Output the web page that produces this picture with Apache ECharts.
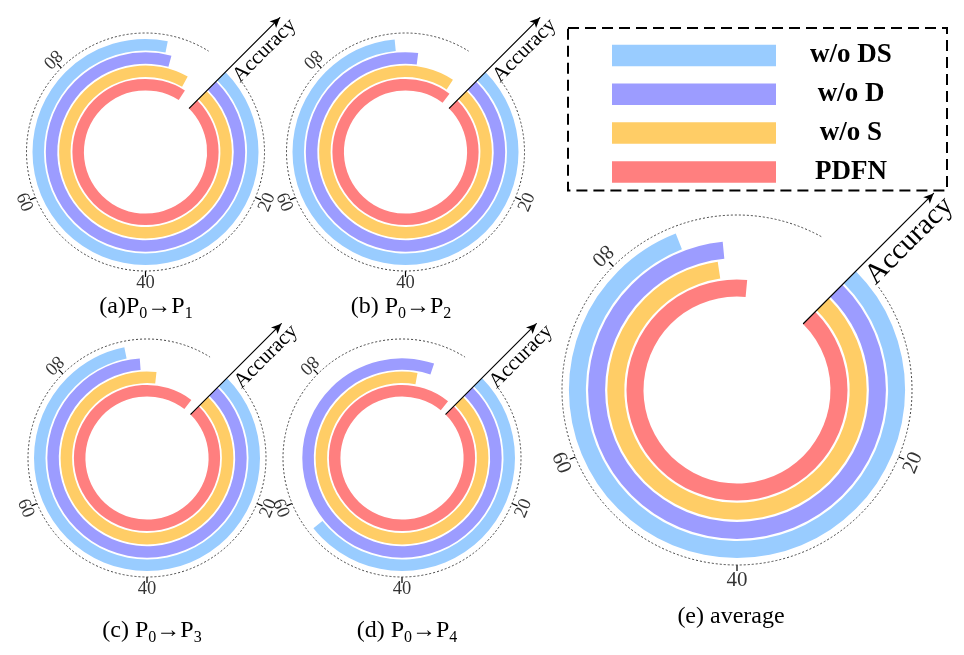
<!DOCTYPE html>
<html lang="en">
<head>
<meta charset="UTF-8">
<title>PDFN ablation - radial bars</title>
<script src="https://cdn.jsdelivr.net/npm/echarts@6/dist/echarts.min.js"></script>
</head>
<body style="margin:0">
<div id="container" style="width:964px;height:655px"></div>
<script>
// rings from the inside out
var methods = ['PDFN', 'w/o S', 'w/o D', 'w/o DS'];
var legendOrder = ['w/o DS', 'w/o D', 'w/o S', 'PDFN'];
var colors = { 'PDFN': '#ff7f7f', 'w/o S': '#ffcd66', 'w/o D': '#9c9cff', 'w/o DS': '#99ccff' };

// values, same order as methods
var accP1 = [103.0, 102.0, 97.8, 96.7];
var accP2 = [104.3, 103.2, 95.5, 91.7];
var accP3 = [104.4, 95.2, 92.1, 89.9];
var accP4 = [104.9, 96.4, 98.9, 55.3];
var accAvg = [94.9, 90.8, 91.7, 87.0];
var panelData = [accP1, accP2, accP3, accP4, accAvg];

var tickValues = [20, 40, 60, 80];
var captions = ['(a)P{s|0}→P{s|1}', '(b) P{s|0}→P{s|2}', '(c) P{s|0}→P{s|3}', '(d) P{s|0}→P{s|4}', '(e) average'];

var FONT = '"Liberation Serif", "Times New Roman", serif';
var AXIS_MAX = 320 / 3;      // full turn
var START = 45;              // where the Accuracy arrow points
var DEG = 360 / AXIS_MAX;
function valueAt(angle) { return (START - angle) / DEG; }
function angleOf(v) { return START - v * DEG; }

// layout of every panel
var panels = [
    { c: [145.5, 152], ring: [60.7, 113.9], r: 119, arrow: [62, 190], gap: [36, 58], bar: 11.5, tick: 18.5, lr: 1.105, name: 21, nameGap: 6, cap: [146, 307] },
    { c: [405.5, 152], ring: [60.7, 113.9], r: 119, arrow: [62, 190], gap: [36, 58], bar: 11.5, tick: 18.5, lr: 1.105, name: 21, nameGap: 6, cap: [401, 307] },
    { c: [147, 458], ring: [60.7, 113.9], r: 119, arrow: [62, 190], gap: [36, 58], bar: 11.5, tick: 18.5, lr: 1.105, name: 21, nameGap: 6, cap: [152, 631] },
    { c: [402, 458], ring: [60.7, 113.9], r: 119, arrow: [62, 190], gap: [36, 58], bar: 11.5, tick: 18.5, lr: 1.105, name: 21, nameGap: 6, cap: [407, 631] },
    { c: [737, 390], ring: [92.4, 169.2], r: 175, arrow: [94, 278], gap: [36, 61], bar: 17, tick: 21, lr: 1.09, name: 29, nameGap: 5, cap: [731, 617] }
];

var polar = [], angleAxis = [], radiusAxis = [], series = [], title = [];

panels.forEach(function (p, i) {
    var base = i * 4;

    // bars
    polar.push({ center: p.c, radius: p.ring });
    angleAxis.push({ polarIndex: base, type: 'value', min: 0, max: AXIS_MAX, startAngle: START, clockwise: true, show: false });
    radiusAxis.push({ polarIndex: base, type: 'category', data: methods, show: false });

    // dotted ring (open round the arrow)
    polar.push({ center: p.c, radius: p.r });
    angleAxis.push({
        polarIndex: base + 1, type: 'value',
        min: valueAt(p.gap[0]), max: valueAt(p.gap[1] - 360),
        startAngle: p.gap[0], endAngle: p.gap[1] - 360, clockwise: true,
        axisLine: { show: true, lineStyle: { color: '#444', width: 1, type: [2, 2] } },
        axisTick: { show: false }, axisLabel: { show: false }, splitLine: { show: false }
    });
    radiusAxis.push({ polarIndex: base + 1, type: 'value', min: 0, max: 1, show: false });

    // ticks 20..80, same scale as the bars
    polar.push({ center: p.c, radius: p.r });
    angleAxis.push({
        polarIndex: base + 2, type: 'value', min: tickValues[0], max: tickValues[tickValues.length - 1], interval: 20,
        startAngle: angleOf(tickValues[0]), endAngle: angleOf(tickValues[tickValues.length - 1]), clockwise: true,
        axisLine: { show: false },
        axisTick: { show: true, length: 6, lineStyle: { color: '#000', width: 1.2 } },
        axisLabel: { show: false }, splitLine: { show: false }
    });
    radiusAxis.push({ polarIndex: base + 2, type: 'value', min: 0, max: 1, show: false });

    // Accuracy arrow
    polar.push({ center: p.c, radius: p.arrow });
    angleAxis.push({ polarIndex: base + 3, type: 'value', startAngle: START, show: false });
    radiusAxis.push({
        polarIndex: base + 3, type: 'value', min: 0, max: 1, z: 10,
        axisLine: { show: true, symbol: ['none', 'arrow'], symbolSize: [7, 10], lineStyle: { color: '#000', width: 1.2 } },
        axisTick: { show: false }, axisLabel: { show: false }, splitLine: { show: false },
        name: 'Accuracy', nameLocation: 'end', nameGap: p.nameGap, nameRotate: 45,
        nameTextStyle: { fontFamily: FONT, fontSize: p.name, color: '#000', align: 'right', verticalAlign: 'top', padding: [2, 0, 0, 0] }
    });

    methods.forEach(function (m, j) {
        series.push({
            type: 'bar', coordinateSystem: 'polar', polarIndex: base,
            name: m, stack: 'p' + i, barWidth: p.bar,
            data: methods.map(function (x, k) { return k === j ? panelData[i][j] : '-'; }),
            itemStyle: { color: colors[m] },
            silent: true
        });
    });

    // tick labels, turned along the ring
    series.push({
        type: 'scatter', coordinateSystem: 'polar', polarIndex: base + 2,
        symbolSize: 1, itemStyle: { color: 'rgba(0,0,0,0)' }, clip: false, silent: true, z: 5,
        data: tickValues.map(function (v) {
            return { value: [p.lr, v], label: { rotate: angleOf(v) + 90 } };
        }),
        label: {
            show: true, position: 'inside', color: '#000', textBorderWidth: 0, fontFamily: FONT, fontSize: p.tick,
            formatter: function (q) { return q.value[1]; }
        }
    });

    title.push({
        text: captions[i], left: p.cap[0], top: p.cap[1], textAlign: 'center', textVerticalAlign: 'middle', padding: 0,
        textStyle: {
            fontFamily: FONT, fontSize: 24, fontWeight: 'normal', color: '#000',
            rich: { s: { fontFamily: FONT, fontSize: 16, color: '#000', padding: [14, 0, 0, 0] } }
        }
    });
});

var chart = echarts.init(document.getElementById('container'));
chart.setOption({
    animation: false,
    backgroundColor: '#fff',
    title: title,
    legend: {
        data: legendOrder, orient: 'vertical', left: 568, top: 28,
        padding: [14, 26, 5, 44], itemWidth: 164, itemHeight: 21.5, itemGap: 11.8, icon: 'rect',
        borderColor: '#000', borderWidth: 2, borderType: [11, 6], selectedMode: false,
        formatter: '{t|{name}}',
        textStyle: { rich: { t: { width: 140, align: 'center', fontFamily: FONT, fontSize: 27, fontWeight: 'bold', color: '#000', lineHeight: 22 } } }
    },
    polar: polar,
    angleAxis: angleAxis,
    radiusAxis: radiusAxis,
    series: series
});
</script>
</body>
</html>
